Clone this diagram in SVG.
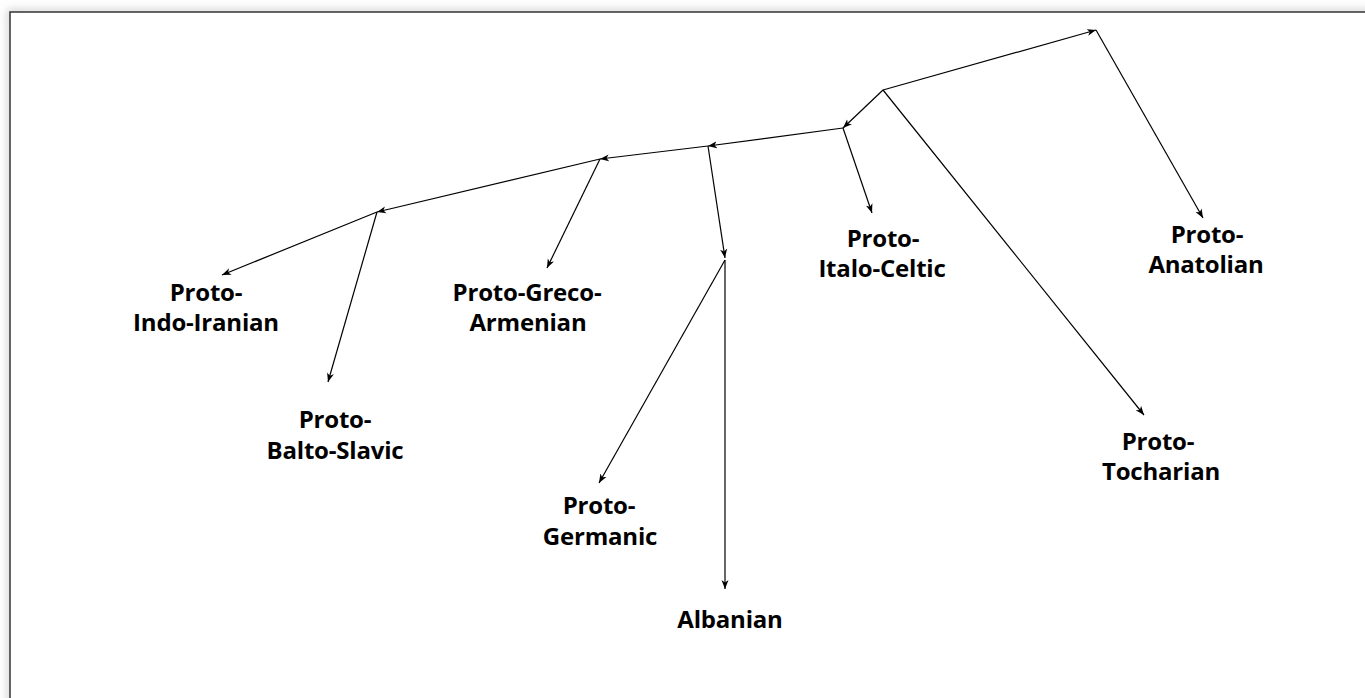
<svg xmlns="http://www.w3.org/2000/svg" width="1365" height="698" viewBox="0 0 1365 698">
<style>
.edge{fill:none;stroke:#000;stroke-width:1.2;marker-end:url(#ah)}
.lbl{font-family:"Open Sans","Liberation Sans",sans-serif;font-weight:bold;font-size:24px;letter-spacing:-0.2px;fill:#000;text-anchor:middle}
</style>
<defs>
<marker id="ah" markerWidth="10" markerHeight="8" refX="9" refY="4" orient="auto" markerUnits="userSpaceOnUse">
<path d="M0,0.5 L9,4 L0,7.5 L2.5,4 z" fill="#000"/>
</marker>
<filter id="sh" x="-5%" y="-5%" width="110%" height="110%">
<feGaussianBlur stdDeviation="4"/>
</filter>
</defs>
<rect x="0" y="0" width="1365" height="698" fill="#fff"/>
<rect x="10" y="12" width="1400" height="720" fill="none" stroke="#bbb" stroke-width="4" filter="url(#sh)"/>
<rect x="10" y="12" width="1400" height="720" fill="#fff" stroke="#333" stroke-width="1.5"/>
<g id="connectors">
<line class="edge" x1="883" y1="90" x2="1096" y2="30"/>
<line class="edge" x1="1096" y1="30" x2="1203" y2="218"/>
<line class="edge" x1="883" y1="90" x2="843" y2="128"/>
<line class="edge" x1="883" y1="90" x2="1144" y2="415"/>
<line class="edge" x1="843" y1="128" x2="708" y2="146"/>
<line class="edge" x1="843" y1="128" x2="872" y2="213"/>
<line class="edge" x1="708" y1="146" x2="600" y2="159"/>
<line class="edge" x1="708" y1="146" x2="725" y2="258"/>
<line class="edge" x1="600" y1="159" x2="377" y2="212"/>
<line class="edge" x1="600" y1="159" x2="547" y2="268"/>
<line class="edge" x1="377" y1="212" x2="222" y2="275"/>
<line class="edge" x1="377" y1="212" x2="328" y2="382"/>
<line class="edge" x1="725" y1="260" x2="599" y2="483"/>
<line class="edge" x1="725" y1="260" x2="725" y2="589"/>
</g>
<g id="node-indo-iranian"><text class="lbl" x="206" y="301">Proto-</text><text class="lbl" x="206" y="331">Indo-Iranian</text></g>
<g id="node-balto-slavic"><text class="lbl" x="335" y="428">Proto-</text><text class="lbl" x="335" y="459">Balto-Slavic</text></g>
<g id="node-greco-armenian"><text class="lbl" x="527" y="301">Proto-Greco-</text><text class="lbl" x="528" y="331">Armenian</text></g>
<g id="node-germanic"><text class="lbl" x="599" y="514">Proto-</text><text class="lbl" x="600" y="545">Germanic</text></g>
<g id="node-albanian"><text class="lbl" x="730" y="628">Albanian</text></g>
<g id="node-italo-celtic"><text class="lbl" x="883" y="247">Proto-</text><text class="lbl" x="882" y="277">Italo-Celtic</text></g>
<g id="node-tocharian"><text class="lbl" x="1158" y="450">Proto-</text><text class="lbl" x="1161" y="480">Tocharian</text></g>
<g id="node-anatolian"><text class="lbl" x="1207" y="243">Proto-</text><text class="lbl" x="1206" y="273">Anatolian</text></g>
</svg>
